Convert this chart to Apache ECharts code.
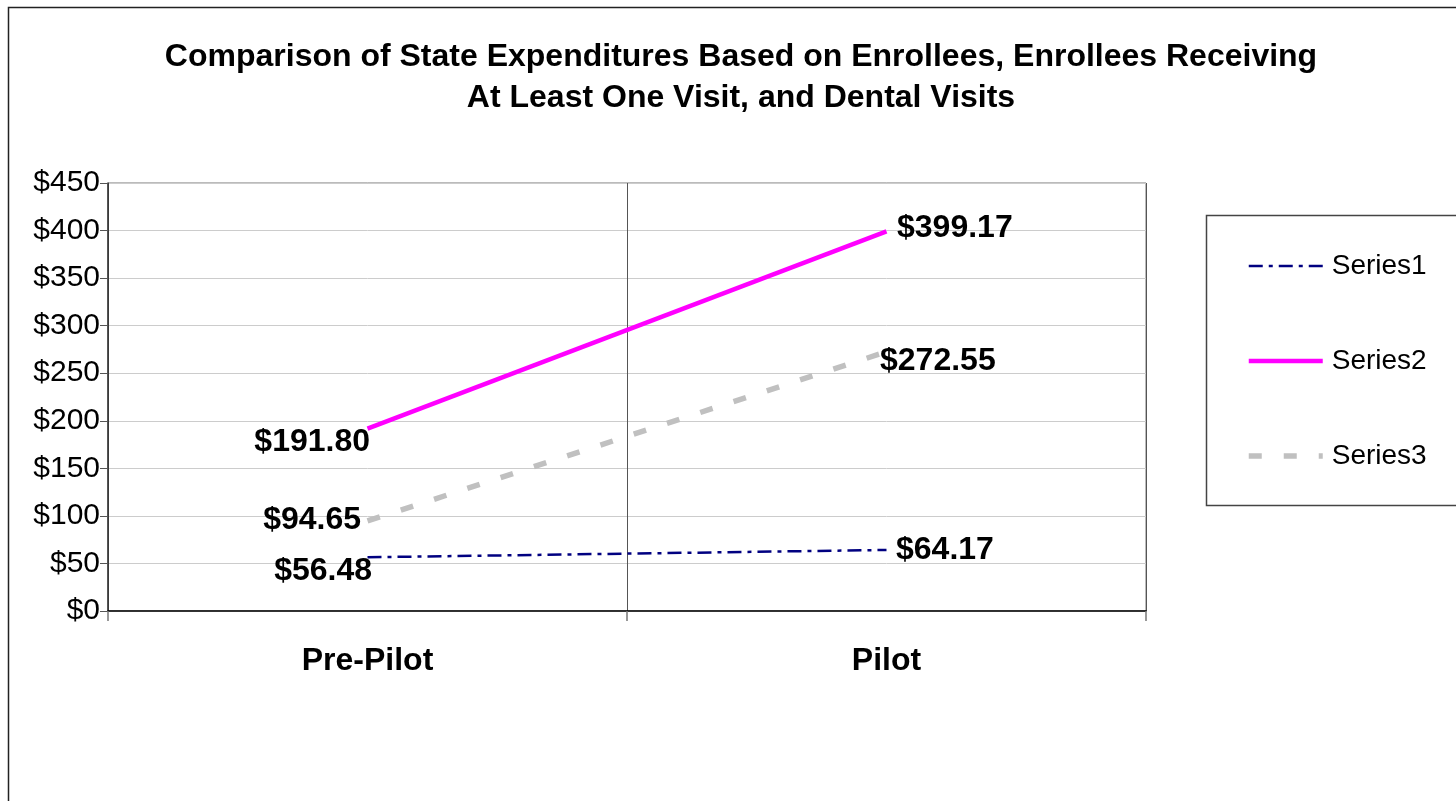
<!DOCTYPE html>
<html><head><meta charset="utf-8">
<script src="https://cdn.jsdelivr.net/npm/echarts@6/dist/echarts.min.js"></script>
<style>html,body{margin:0;padding:0;background:#fff}#c{width:1456px;height:801px}</style>
</head><body><div id="c"></div>
<script>
const categories = ['Pre-Pilot', 'Pilot'];
const series1 = [56.48, 64.17];
const series2 = [191.80, 399.17];
const series3 = [94.65, 272.55];
const seriesNames = ['Series1', 'Series2', 'Series3'];
const titleLines = ['Comparison of State Expenditures Based on Enrollees, Enrollees Receiving', 'At Least One Visit, and Dental Visits'];

const font = 'Liberation Sans, Arial, sans-serif';
const styles = [
  { color: '#000080', width: 2.5, type: [14, 6, 4, 6] },
  { color: '#ff00ff', width: 4.5, type: 'solid' },
  { color: '#c0c0c0', width: 5.5, type: [13, 22] }
];
const chart = echarts.init(document.getElementById('c'));
function lbl(position, offset) {
  return {
    show: true, position: position, offset: offset, distance: 5,
    fontFamily: font, fontSize: 32, fontWeight: 'bold', color: '#000',
    formatter: p => '$' + p.value.toFixed(2)
  };
}
function mkData(vals, cfg) {
  return vals.map((v, i) => ({ value: v, label: cfg[i] }));
}
const commonSeries = { type: 'line', symbol: 'circle', symbolSize: 1, showSymbol: true };
chart.setOption({
  animation: false,
  backgroundColor: '#fff',
  title: {
    text: titleLines.join('\n'), left: 736, top: 32, textAlign: 'center',
    textStyle: { fontFamily: font, fontSize: 32, fontWeight: 'bold', color: '#000', lineHeight: 41 }
  },
  graphic: [
    { type: 'rect', shape: { x: 8.5, y: 7.5, width: 1460, height: 800 }, style: { fill: 'none', stroke: '#222', lineWidth: 1.5 }, silent: true, z: -1 },
    { type: 'rect', shape: { x: 1206.5, y: 215.5, width: 300, height: 290 }, style: { fill: 'none', stroke: '#444', lineWidth: 1.5 }, silent: true }
  ],
  legend: {
    orient: 'vertical', left: 1246, top: 252, padding: 0, itemWidth: 74, itemHeight: 14, itemGap: 67,
    itemStyle: { color: 'rgba(0,0,0,0)', borderWidth: 0, opacity: 0 },
    textStyle: { fontFamily: font, fontSize: 28, color: '#000', padding: [0, 0, 0, 4] },
    data: seriesNames.map((n, i) => ({ name: n, lineStyle: Object.assign({}, styles[i]) }))
  },
  grid: { left: 108, top: 183, width: 1038, height: 428, show: true, borderColor: '#777', borderWidth: 1, containLabel: false },
  xAxis: {
    type: 'category', data: categories, boundaryGap: true,
    axisLine: { lineStyle: { color: '#000', width: 1.5 } },
    axisTick: { show: true, length: 10, lineStyle: { color: '#777', width: 1.5 } },
    splitLine: { show: true, lineStyle: { color: '#555', width: 1 } },
    axisLabel: { fontFamily: font, fontSize: 32, fontWeight: 'bold', color: '#000', margin: 34 }
  },
  yAxis: {
    type: 'value', min: 0, max: 450, interval: 50,
    axisLine: { show: true, lineStyle: { color: '#333', width: 1.5 } },
    axisTick: { show: true, length: 8, lineStyle: { color: '#555' } },
    splitLine: { show: true, lineStyle: { color: '#ccc', width: 1 } },
    axisLabel: { fontFamily: font, fontSize: 30, color: '#000', margin: 8, formatter: v => '$' + v }
  },
  series: [
    Object.assign({}, commonSeries, {
      name: seriesNames[0],
      lineStyle: styles[0],
      itemStyle: { color: 'rgba(0,0,0,0)', borderWidth: 0 },
      data: mkData(series1, [lbl('left', [10, 14]), lbl('right', [4, 0])])
    }),
    Object.assign({}, commonSeries, {
      name: seriesNames[1],
      lineStyle: styles[1],
      itemStyle: { color: 'rgba(0,0,0,0)', borderWidth: 0 },
      data: mkData(series2, [lbl('left', [8, 14]), lbl('right', [5, -3])])
    }),
    Object.assign({}, commonSeries, {
      name: seriesNames[2],
      lineStyle: styles[2],
      itemStyle: { color: 'rgba(0,0,0,0)', borderWidth: 0 },
      data: mkData(series3, [lbl('left', [-1, -1]), lbl('right', [-12, 9])])
    })
  ]
});
</script></body></html>
